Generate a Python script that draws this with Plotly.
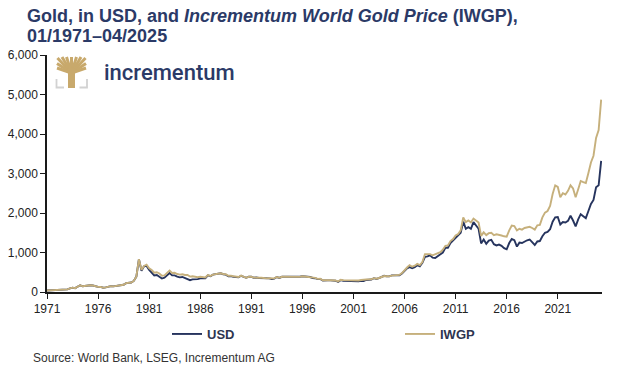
import pandas as pd
import plotly.graph_objects as go

# ---------------- data (quarterly samples) ----------------
start_date = "1971-01-01"
end_date = "2025-04-01"

usd = [
    37, 39, 41, 42,        # 1971
    46, 49, 65, 64,        # 1972
    66, 90, 110, 98,       # 1973
    130, 170, 145, 155,    # 1974
    178, 170, 165, 142,    # 1975
    130, 128, 110, 118,    # 1976
    132, 148, 142, 155,    # 1977
    172, 178, 184, 225,    # 1978
    228, 240, 280, 390,    # 1979
    830, 540, 650, 660,    # 1980
    560, 500, 420, 430,    # 1981
    390, 340, 360, 430,    # 1982
    480, 420, 420, 390,    # 1983
    370, 380, 350, 340,    # 1984
    300, 320, 320, 325,    # 1985
    345, 340, 345, 420,    # 1986
    400, 440, 450, 470,    # 1987
    475, 450, 440, 400,    # 1988
    405, 385, 370, 370,    # 1989
    410, 375, 360, 390,    # 1990
    385, 360, 368, 355,    # 1991
    355, 340, 345, 345,    # 1992
    330, 340, 380, 355,    # 1993
    385, 385, 385, 390,    # 1994
    380, 390, 385, 385,    # 1995
    400, 395, 385, 380,    # 1996
    355, 350, 325, 330,    # 1997
    290, 300, 295, 295,    # 1998
    290, 285, 255, 300,    # 1999
    285, 280, 285, 270,    # 2000
    265, 260, 268, 285,    # 2001
    280, 305, 315, 315,    # 2002
    350, 330, 350, 375,    # 2003
    410, 400, 395, 420,    # 2004
    425, 430, 425, 470,    # 2005
    545, 600, 630, 600,    # 2006
    630, 680, 650, 740,    # 2007
    890, 900, 930, 870,    # 2008
    860, 900, 940, 1000,   # 2009
    1120, 1120, 1240, 1300,  # 2010
    1380, 1430, 1500, 1780,  # 2011
    1600, 1640, 1600, 1770,  # 2012
    1670, 1600, 1230, 1330,  # 2013
    1220, 1300, 1320, 1210,  # 2014
    1180, 1200, 1170, 1110,  # 2015
    1080, 1240, 1340, 1310,  # 2016
    1150, 1250, 1240, 1280,  # 2017
    1310, 1330, 1250, 1190,  # 2018
    1280, 1290, 1410, 1500,  # 2019
    1520, 1590, 1780, 1890,  # 2020
    1900, 1710, 1770, 1760,  # 2021
    1800, 1930, 1810, 1660,  # 2022
    1840, 1970, 1920, 1870,  # 2023
    2050, 2230, 2330, 2650,  # 2024
    2700, 3320,              # 2025
]

iwgp = [
    37, 39, 41, 42,        # 1971
    46, 49, 65, 64,        # 1972
    66, 90, 110, 98,       # 1973
    130, 170, 145, 155,    # 1974
    178, 170, 165, 142,    # 1975
    130, 128, 110, 118,    # 1976
    132, 148, 142, 155,    # 1977
    172, 178, 184, 225,    # 1978
    228, 240, 280, 390,    # 1979
    830, 560, 660, 690,    # 1980
    600, 560, 490, 500,    # 1981
    470, 410, 420, 490,    # 1982
    540, 480, 485, 455,    # 1983
    440, 450, 430, 430,    # 1984
    390, 400, 385, 375,    # 1985
    385, 370, 370, 430,    # 1986
    405, 440, 450, 465,    # 1987
    475, 455, 450, 410,    # 1988
    415, 400, 385, 380,    # 1989
    415, 380, 360, 385,    # 1990
    385, 365, 372, 360,    # 1991
    360, 345, 345, 350,    # 1992
    338, 345, 380, 358,    # 1993
    385, 385, 385, 388,    # 1994
    378, 385, 382, 384,    # 1995
    398, 393, 385, 382,    # 1996
    360, 357, 332, 338,    # 1997
    298, 306, 300, 298,    # 1998
    293, 292, 265, 310,    # 1999
    300, 297, 303, 292,    # 2000
    290, 288, 293, 305,    # 2001
    303, 318, 320, 322,    # 2002
    350, 335, 355, 375,    # 2003
    405, 400, 395, 415,    # 2004
    420, 430, 432, 480,    # 2005
    560, 620, 680, 640,    # 2006
    665, 710, 680, 760,    # 2007
    960, 960, 960, 930,    # 2008
    960, 980, 1010, 1070,  # 2009
    1170, 1180, 1290, 1340,  # 2010
    1430, 1470, 1560, 1890,  # 2011
    1770, 1810, 1760, 1860,  # 2012
    1800, 1760, 1420, 1510,  # 2013
    1440, 1490, 1500, 1440,  # 2014
    1460, 1450, 1430, 1410,  # 2015
    1400, 1560, 1680, 1670,  # 2016
    1560, 1600, 1580, 1620,  # 2017
    1640, 1650, 1620, 1580,  # 2018
    1690, 1700, 1890, 2010,  # 2019
    2050, 2180, 2480, 2700,  # 2020
    2660, 2400, 2500, 2470,  # 2021
    2560, 2700, 2620, 2400,  # 2022
    2600, 2810, 2780, 2760,  # 2023
    3010, 3280, 3450, 3900,  # 2024
    4100, 4870,              # 2025
]

dates = pd.date_range(start_date, end_date, freq="QS")
assert len(dates) == len(usd) == len(iwgp)

tick_years = [1971, 1976, 1981, 1986, 1991, 1996, 2001, 2006, 2011, 2016, 2021]
y_ticks = [0, 1000, 2000, 3000, 4000, 5000, 6000]

series_names = ["USD", "IWGP"]
series_colors = ["#26345e", "#c6b07c"]

title_line1 = "<b>Gold, in USD, and <i>Incrementum World Gold Price</i> (IWGP),</b>"
title_line2 = "<b>01/1971\u201304/2025</b>"
source_text = "Source: World Bank, LSEG, Incrementum AG"
logo_text = "incrementum"

# ---------------- layout geometry (pixels) ----------------
W, H = 617, 368
L, R, T, B = 47, 15, 55, 76
PW, PH = W - L - R, H - T - B
NAVY = "#2b3a67"
FONT = "Liberation Sans, Arial, sans-serif"


def px(x):
    return (x - L) / PW


def py(y):
    return (H - B - y) / PH


fig = go.Figure()
legend_ids = ["legend", "legend2"]
for name, vals, col, lg in zip(series_names, [usd, iwgp], series_colors, legend_ids):
    fig.add_trace(go.Scatter(
        x=dates, y=vals, mode="lines", name=name, legend=lg,
        line=dict(color=col, width=1.9),
    ))

annotations = [
    dict(text=title_line1, x=px(25), y=py(16), xref="paper", yref="paper",
         xanchor="left", yanchor="middle", showarrow=False,
         font=dict(size=18, color=NAVY, family=FONT)),
    dict(text=title_line2, x=px(25), y=py(36), xref="paper", yref="paper",
         xanchor="left", yanchor="middle", showarrow=False,
         font=dict(size=18, color=NAVY, family=FONT)),
    dict(text=source_text, x=px(31), y=py(357.5), xref="paper", yref="paper",
         xanchor="left", yanchor="middle", showarrow=False,
         font=dict(size=12, color="#333333", family=FONT)),
    dict(text=logo_text, x=px(102), y=py(73), xref="paper", yref="paper",
         xanchor="left", yanchor="middle", showarrow=False,
         font=dict(size=22, color=NAVY, family="Roboto, Liberation Sans, sans-serif",
                   weight=500)),
]

# ---------------- logo (tree) ----------------
GOLD = "#c8a96c"
shapes = []
base = (71.5, 73)
tips = [(57.5, 58), (62, 57), (66.5, 57), (71.5, 57), (76.5, 57),
        (81, 57), (85.5, 58), (86, 63.5), (57, 63.5), (86, 68), (57, 68)]
for tx, ty in tips:
    shapes.append(dict(type="line", xref="paper", yref="paper",
                       x0=px(base[0]), y0=py(base[1]), x1=px(tx), y1=py(ty),
                       line=dict(color=GOLD, width=3.0)))
shapes.append(dict(type="rect", xref="paper", yref="paper",
                   x0=px(68), x1=px(75), y0=py(88), y1=py(69),
                   fillcolor=GOLD, line=dict(width=0)))


def ppath(points):
    return "M " + " L ".join(f"{px(a):.5f},{py(b):.5f}" for a, b in points)


for pts in ([(56.5, 79), (56.5, 87.5), (64, 87.5)], [(87, 79), (87, 87.5), (79.5, 87.5)]):
    shapes.append(dict(type="path", xref="paper", yref="paper", path=ppath(pts),
                       line=dict(color="#d2d2d2", width=1.8)))

legend_style = dict(orientation="h", yanchor="middle", xanchor="left",
                    font=dict(size=13, color="#2e3550", family=FONT, weight="bold"),
                    bgcolor="rgba(0,0,0,0)", borderwidth=0)

fig.update_layout(
    width=W, height=H,
    margin=dict(l=L, r=R, t=T, b=B, pad=0, autoexpand=False),
    paper_bgcolor="white", plot_bgcolor="white",
    font=dict(family=FONT, size=12, color="#222222"),
    showlegend=True,
    legend=dict(x=px(167), y=py(334), **legend_style),
    legend2=dict(x=px(400), y=py(334), **legend_style),
    annotations=annotations,
    shapes=shapes,
    xaxis=dict(
        type="date",
        range=["1971-01-01", "2025-05-01"],
        tickvals=[f"{y}-01-01" for y in tick_years],
        ticktext=[str(y) for y in tick_years],
        showgrid=False, zeroline=False,
        showline=True, linecolor="#1a1a1a", linewidth=1.5,
        ticks="outside", ticklen=5, tickcolor="#1a1a1a", tickwidth=1.2,
        tickfont=dict(size=12, color="#222222"),
    ),
    yaxis=dict(
        range=[0, 6000],
        tickvals=y_ticks,
        tickformat=",",
        showgrid=False, zeroline=False,
        showline=True, linecolor="#1a1a1a", linewidth=1.5,
        ticks="outside", ticklen=5, tickcolor="#1a1a1a", tickwidth=1.2,
        tickfont=dict(size=12, color="#222222"),
    ),
)

# remove the browser's default 8px page margin so the figure sits at the window origin
fig.write_html(
    "out.html",
    config={"displayModeBar": False},
    post_script="document.body.style.margin='0';document.body.style.overflow='hidden';",
)
